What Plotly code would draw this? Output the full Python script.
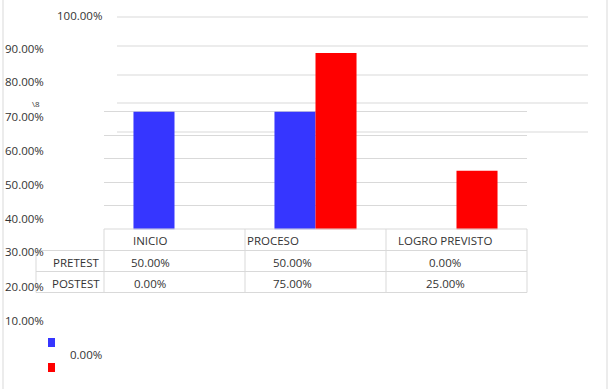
import plotly.graph_objects as go

# ---- data ----
categories = ["INICIO", "PROCESO", "LOGRO PREVISTO"]
series_names = ["PRETEST", "POSTEST"]
pretest = [50.0, 50.0, 0.0]
postest = [0.0, 75.0, 25.0]
axis_labels = ["100.00%", "90.00%", "80.00%", "70.00%", "60.00%", "50.00%",
               "40.00%", "30.00%", "20.00%", "10.00%", "0.00%"]
grid_vals = [10, 20, 30, 40, 50]

BLUE = "#3636FF"
RED = "#FF0000"
GRID = "#D9D9D9"
TXT = "#333333"
FONT = "Open Sans"
FS = 11.5
W, H = 610, 389


def px(x):
    return x / W


def py(y):
    return 1 - y / H


fig = go.Figure()
fig.add_trace(go.Bar(x=categories, y=pretest, name=series_names[0],
                     marker=dict(color=BLUE, line=dict(width=0))))
fig.add_trace(go.Bar(x=categories, y=postest, name=series_names[1],
                     marker=dict(color=RED, line=dict(width=0))))

shapes = []
annotations = []

# stray upper grid lines
for yy in [17, 46, 75, 103, 132]:
    shapes.append(dict(type="line", xref="paper", yref="paper", layer="below",
                       x0=px(117), x1=px(588), y0=py(yy), y1=py(yy),
                       line=dict(color=GRID, width=1)))

# outer border lines
for xx in [3, 607]:
    shapes.append(dict(type="line", xref="paper", yref="paper",
                       x0=px(xx), x1=px(xx), y0=0, y1=1,
                       line=dict(color=GRID, width=1)))

# data table grid
tbl_top, r1, r2, r3 = 229, 250.5, 271.5, 292.5
col_x = [104, 245, 386, 527]
shapes.append(dict(type="line", xref="paper", yref="paper",
                   x0=px(104), x1=px(527), y0=py(tbl_top), y1=py(tbl_top),
                   line=dict(color=GRID, width=1)))
for yy in [r1, r2, r3]:
    shapes.append(dict(type="line", xref="paper", yref="paper",
                       x0=px(36), x1=px(527), y0=py(yy), y1=py(yy),
                       line=dict(color=GRID, width=1)))
for xx in col_x:
    shapes.append(dict(type="line", xref="paper", yref="paper",
                       x0=px(xx), x1=px(xx), y0=py(tbl_top), y1=py(r3),
                       line=dict(color=GRID, width=1)))
shapes.append(dict(type="line", xref="paper", yref="paper",
                   x0=px(36), x1=px(36), y0=py(r1), y1=py(r3),
                   line=dict(color=GRID, width=1)))

# table header text
hdr_pos = [(150, "center"), (245, "left"), (445, "center")]
for cat, (xx, anc) in zip(categories, hdr_pos):
    annotations.append(dict(text=cat, x=px(xx), y=py(240), xref="paper", yref="paper",
                            xanchor=anc, yanchor="middle", showarrow=False,
                            font=dict(family=FONT, size=FS, color=TXT)))
val_x = [150, 292, 445]
for name, vals, yy in [(series_names[0], pretest, 262), (series_names[1], postest, 283)]:
    annotations.append(dict(text=name, x=px(76), y=py(yy), xref="paper", yref="paper",
                            xanchor="center", yanchor="middle", showarrow=False,
                            font=dict(family=FONT, size=FS, color=TXT)))
    for v, xx in zip(vals, val_x):
        annotations.append(dict(text=f"{v:.2f}%", x=px(xx), y=py(yy), xref="paper",
                                yref="paper", xanchor="center", yanchor="middle",
                                showarrow=False,
                                font=dict(family=FONT, size=FS, color=TXT)))

# misplaced axis labels
label_pos = [(104, 15, "right")] + [(3, y, "left") for y in
                                    [48, 82, 116, 150, 184, 218, 252, 286, 320]] + [(104, 354, "right")]
for lab, (xx, yy, anc) in zip(axis_labels, label_pos):
    annotations.append(dict(text=lab, x=px(xx), y=py(yy), xref="paper", yref="paper",
                            xanchor=anc, yanchor="middle", showarrow=False,
                            font=dict(family=FONT, size=FS, color=TXT)))

# stray glyph just above the 70% label
annotations.append(dict(text="\\8", x=px(36), y=py(104), xref="paper", yref="paper",
                        xanchor="center", yanchor="middle", showarrow=False,
                        font=dict(family=FONT, size=8, color=TXT)))

# legend keys
for col, y0, y1 in [(BLUE, 338, 347), (RED, 363, 372)]:
    shapes.append(dict(type="rect", xref="paper", yref="paper",
                       x0=px(48), x1=px(55), y0=py(y1), y1=py(y0),
                       fillcolor=col, line=dict(width=0)))

fig.update_layout(
    width=W, height=H,
    margin=dict(l=0, r=0, t=0, b=0),
    paper_bgcolor="white", plot_bgcolor="rgba(0,0,0,0)",
    barmode="group", bargap=0.418, bargroupgap=0,
    showlegend=False,
    shapes=shapes, annotations=annotations,
    xaxis=dict(domain=[px(104), px(527)], showticklabels=False, showgrid=False,
               zeroline=False, showline=False, ticks=""),
    yaxis=dict(domain=[py(229.5), py(41.1)], range=[0, 80], tickvals=grid_vals,
               showticklabels=False, showgrid=True, gridcolor=GRID, gridwidth=1,
               zeroline=False, showline=False, ticks=""),
)

fig.write_html("out.html")
